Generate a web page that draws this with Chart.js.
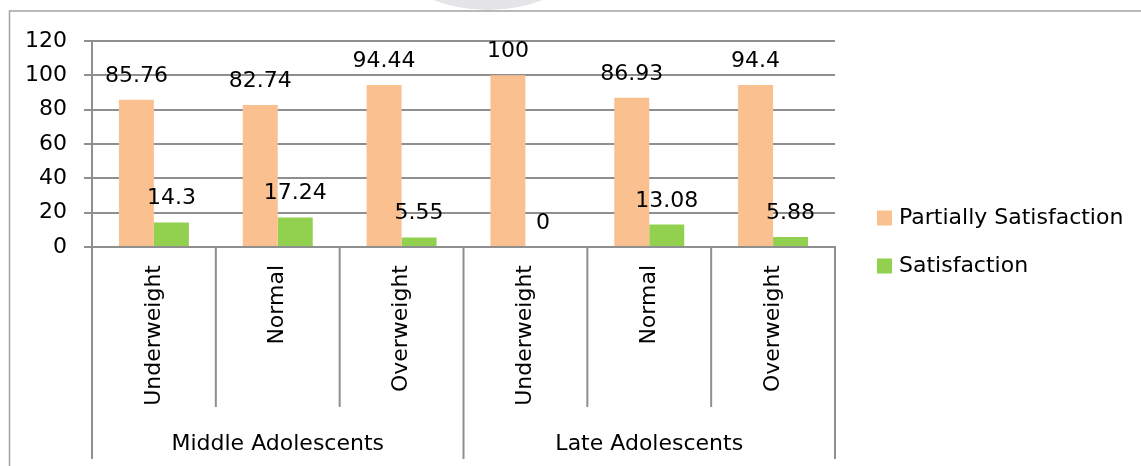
<!DOCTYPE html>
<html>
<head>
<meta charset="utf-8">
<title>Satisfaction by BMI group</title>
<script src="https://cdn.jsdelivr.net/npm/chart.js@4.4.1/dist/chart.umd.min.js"></script>
<style>
  html, body { margin: 0; padding: 0; background: #ffffff; }
  #wrap { width: 1141px; height: 466px; position: relative; }
</style>
</head>
<body>
<div id="wrap"><canvas id="c" width="1141" height="466"></canvas></div>
<script>
// Categories (BMI group within each age group)
const categories = ["Underweight", "Normal", "Overweight", "Underweight", "Normal", "Overweight"];
// Outer grouping shown beneath the category labels
const groups = ["Middle Adolescents", "Late Adolescents"];
const groupSizes = [3, 3];
// Series values (%)
const partiallySatisfaction = [85.76, 82.74, 94.44, 100, 86.93, 94.4];
const satisfaction = [14.3, 17.24, 5.55, 0, 13.08, 5.88];
const seriesNames = ["Partially Satisfaction", "Satisfaction"];
// Value axis ticks
const yTicks = [0, 20, 40, 60, 80, 100, 120];

const FONT = "'DejaVu Sans', sans-serif";
const FS = 22;
const LINE = "#8f8f8f";
const ORANGE = "#FAC090";
const GREEN = "#92D050";

// Frame around the whole figure plus a faint emblem at the top edge
const framePlugin = {
  id: "frame",
  beforeDraw(chart) {
    const ctx = chart.ctx;
    ctx.save();
    ctx.fillStyle = "#ffffff";
    ctx.fillRect(0, 0, chart.width, chart.height);
    ctx.beginPath();
    ctx.rect(0, 0, chart.width, 10);
    ctx.clip();
    ctx.fillStyle = "#e5e5e9";
    ctx.beginPath();
    ctx.arc(488, -147, 157, 0, Math.PI * 2);
    ctx.fill();
    ctx.restore();

    ctx.save();
    ctx.strokeStyle = "#a2a2a2";
    ctx.lineWidth = 1.5;
    ctx.beginPath();
    ctx.moveTo(9.5, chart.height);
    ctx.lineTo(9.5, 11);
    ctx.lineTo(chart.width, 11);
    ctx.stroke();
    ctx.restore();
  }
};

// Category separators, group separators and group names under the x axis
const groupAxisPlugin = {
  id: "groupAxis",
  afterDraw(chart) {
    const ctx = chart.ctx;
    const xs = chart.scales.x;
    const area = chart.chartArea;
    const n = categories.length;
    const step = (xs.getPixelForValue(1) - xs.getPixelForValue(0));
    const bounds = [];
    for (let i = 0; i <= n; i++) bounds.push(xs.getPixelForValue(0) - step / 2 + i * step);
    const groupEdges = [0];
    groupSizes.forEach(s => groupEdges.push(groupEdges[groupEdges.length - 1] + s));

    ctx.save();
    ctx.strokeStyle = LINE;
    ctx.lineWidth = 2;
    bounds.forEach((bx, i) => {
      const isGroupEdge = groupEdges.includes(i);
      ctx.beginPath();
      ctx.moveTo(bx, area.bottom);
      ctx.lineTo(bx, isGroupEdge ? 459 : 407);
      ctx.stroke();
    });
    ctx.fillStyle = "#000000";
    ctx.font = FS + "px " + FONT;
    ctx.textAlign = "center";
    ctx.textBaseline = "alphabetic";
    groups.forEach((g, gi) => {
      const a = bounds[groupEdges[gi]];
      const b = bounds[groupEdges[gi + 1]];
      ctx.fillText(g, (a + b) / 2, 450);
    });
    ctx.restore();
  }
};

// Value labels above each bar
const valueLabelPlugin = {
  id: "valueLabels",
  afterDatasetsDraw(chart) {
    const ctx = chart.ctx;
    ctx.save();
    ctx.fillStyle = "#000000";
    ctx.font = FS + "px " + FONT;
    ctx.textAlign = "center";
    ctx.textBaseline = "alphabetic";
    chart.data.datasets.forEach((ds, di) => {
      const meta = chart.getDatasetMeta(di);
      meta.data.forEach((bar, i) => {
        ctx.fillText(String(ds.data[i]), bar.x, bar.y - 18);
      });
    });
    ctx.restore();
  }
};

// Legend at the right of the plot
const sideLegendPlugin = {
  id: "sideLegend",
  afterDraw(chart) {
    const ctx = chart.ctx;
    ctx.save();
    ctx.font = FS + "px " + FONT;
    ctx.textBaseline = "middle";
    ctx.textAlign = "left";
    chart.data.datasets.forEach((ds, i) => {
      const cy = 218 + i * 48;
      ctx.fillStyle = ds.backgroundColor;
      ctx.fillRect(877, cy - 7.5, 15, 15);
      ctx.fillStyle = "#000000";
      ctx.fillText(ds.label, 899, cy);
    });
    ctx.restore();
  }
};

new Chart(document.getElementById("c"), {
  type: "bar",
  data: {
    labels: categories,
    datasets: [
      { label: seriesNames[0], data: partiallySatisfaction, backgroundColor: ORANGE },
      { label: seriesNames[1], data: satisfaction, backgroundColor: GREEN }
    ]
  },
  options: {
    responsive: false,
    animation: false,
    devicePixelRatio: 1,
    layout: { padding: { top: 41, right: 306, left: 0, bottom: 0 } },
    datasets: { bar: { categoryPercentage: 0.565, barPercentage: 1.0 } },
    plugins: {
      legend: { display: false },
      tooltip: { enabled: false }
    },
    scales: {
      x: {
        offset: true,
        grid: { display: false, drawTicks: false },
        border: { display: true, color: LINE, width: 2 },
        ticks: {
          minRotation: 90,
          maxRotation: 90,
          padding: 18,
          color: "#000000",
          font: { family: FONT, size: FS }
        },
        afterFit(scale) { scale.height = 219; }
      },
      y: {
        min: 0,
        max: 120,
        afterBuildTicks(scale) { scale.ticks = yTicks.map(v => ({ value: v })); },
        grid: { color: LINE, lineWidth: 2, tickLength: 8, drawTicks: true },
        border: { display: true, color: LINE, width: 2 },
        ticks: {
          padding: 17,
          color: "#000000",
          font: { family: FONT, size: FS }
        },
        afterFit(scale) { scale.width = 92; }
      }
    }
  },
  plugins: [framePlugin, valueLabelPlugin, groupAxisPlugin, sideLegendPlugin]
});
</script>
</body>
</html>
